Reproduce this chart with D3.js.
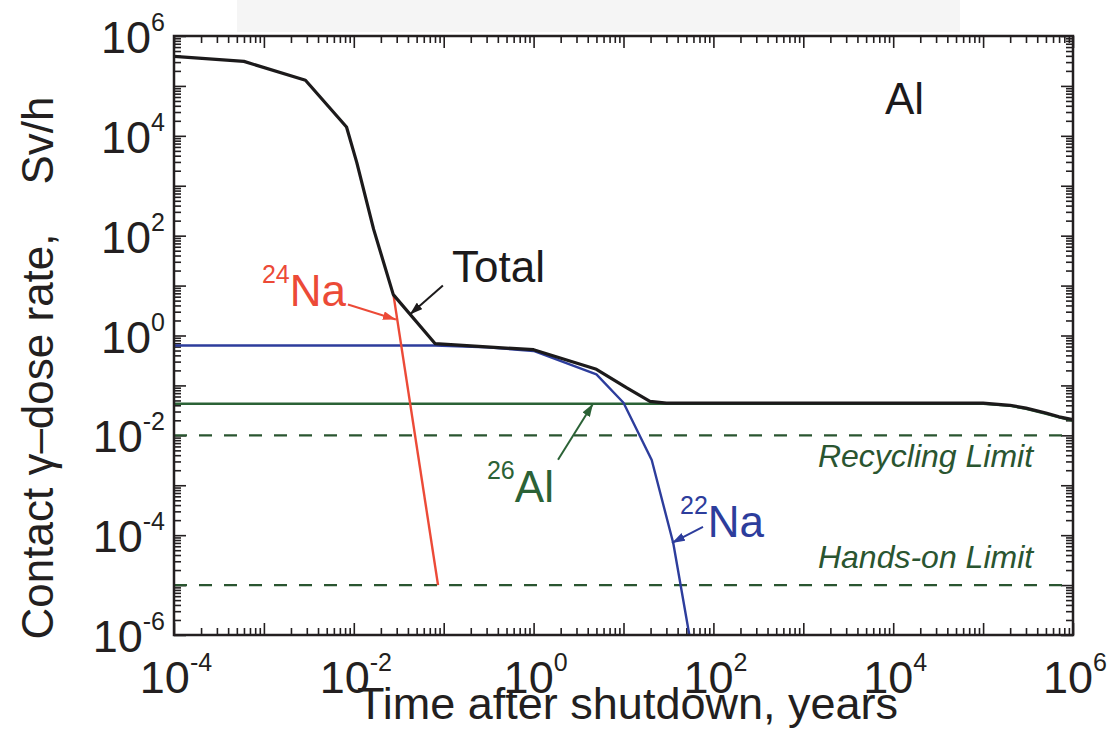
<!DOCTYPE html>
<html>
<head>
<meta charset="utf-8">
<script src="https://cdn.jsdelivr.net/npm/d3@7"></script>
<style>
  body { margin: 0; background: #fff; }
  svg { display: block; font-family: "Liberation Sans", Arial, Helvetica, sans-serif; }
  .axis path { display: none; }
  .axis line { stroke: #231f20; stroke-width: 1.6; }
</style>
</head>
<body>
<svg id="chart" width="1108" height="736"></svg>
<script>
// time after shutdown (years) vs contact gamma dose rate (Sv/h)
var totalTime = [1e-4, 6e-4, 2.9e-3, 8.3e-3, 1.08e-2, 1.66e-2, 2.75e-2, 0.08, 0.3, 1, 5, 10.9, 19.7, 30, 1e5, 2e5, 3e5, 5e5, 7e5, 1e6]
var totalDose = [3.9e5, 3.1e5, 1.3e5, 1.5e4, 2.9e3, 135, 6.6, 0.69, 0.59, 0.52, 0.21, 0.089, 0.048, 0.044, 0.044, 0.040, 0.035, 0.028, 0.0235, 0.0206]

var na22Time = [1e-4, 0.08, 0.3, 1, 5, 10, 20.6, 35.8, 54]
var na22Dose = [0.63, 0.63, 0.58, 0.49, 0.166, 0.045, 3.2e-3, 6.9e-5, 1e-6]

var na24Time = [0.0277, 0.0865]
var na24Dose = [6.3, 1e-5]

var al26Time = [1e-4, 1e5, 2e5, 3e5, 5e5, 7e5, 1e6]
var al26Dose = [0.043, 0.043, 0.039, 0.034, 0.027, 0.023, 0.0195]

var limitNames = ['Recycling Limit', 'Hands-on Limit']
var limitDose = [1e-2, 1e-5]
var limitLabelTime = [1455, 1455]
var limitLabelDose = [2.34e-3, 2.2e-5]

var xTickExps = [-4, -2, 0, 2, 4, 6]
var yTickExps = [-6, -4, -2, 0, 2, 4, 6]

// curve labels: mass number, symbol, anchor (time, dose) and arrow tail/head
var labelSup = ['', '24', '26', '22', '']
var labelText = ['Total', 'Na', 'Al', 'Na', 'Al']
var labelTime = [0.124, 9.5e-4, 0.303, 42.5, 8100]
var labelDose = [11.6, 3.87, 4.7e-4, 9.4e-5, 2.72e4]
var arrowFrom = [[0.098, 10], [0.0086, 4.19], [1.87, 3.24e-3], [76.6, 1.47e-4]]
var arrowTo = [[0.042, 2.64], [0.0294, 2.09], [4.58, 0.043], [34.6, 7e-5]]

var black = '#1c1a1b', red = '#ec4a37', blue = '#2d3d9c', green = '#2b6236', limitGreen = '#2a5530'
var labelColor = [black, red, green, blue, black]

var svg = d3.select('#chart')
var plotLeft = 174, plotRight = 1073, plotTop = 36, plotBottom = 635

var x = d3.scaleLog().domain([1e-4, 1e6]).range([plotLeft, plotRight])
var y = d3.scaleLog().domain([1e-6, 1e6]).range([plotBottom, plotTop])

// faint scan band at the top
svg.append('rect').attr('x', 237).attr('y', 0).attr('width', 723).attr('height', 32).attr('fill', '#f5f5f5')

var defs = svg.append('defs')
defs.append('clipPath').attr('id', 'plotClip')
  .append('rect').attr('x', plotLeft).attr('y', plotTop)
  .attr('width', plotRight - plotLeft).attr('height', plotBottom - plotTop)

// ticks: decades long, 2..9 short, all pointing inward
var xMajor = d3.range(-4, 7).map(function(e) { return Math.pow(10, e) })
var yMajor = d3.range(-6, 7).map(function(e) { return Math.pow(10, e) })
var minorOf = function(lo, hi) {
  var out = []
  d3.range(lo, hi).forEach(function(e) {
    d3.range(2, 10).forEach(function(k) { out.push(k * Math.pow(10, e)) })
  })
  return out
}
var xMinor = minorOf(-4, 6)
var yMinor = minorOf(-6, 6)

var _drawAxis = function(axisGen, tx, ty, values, size) {
  svg.append('g')
    .attr('class', 'axis')
    .attr('transform', 'translate(' + tx + ',' + ty + ')')
    .call(axisGen.tickValues(values).tickSize(size).tickFormat(''))
}
_drawAxis(d3.axisBottom(x), 0, plotBottom, xMajor, -12)
_drawAxis(d3.axisBottom(x), 0, plotBottom, xMinor, -7)
_drawAxis(d3.axisTop(x), 0, plotTop, xMajor, -12)
_drawAxis(d3.axisTop(x), 0, plotTop, xMinor, -7)
_drawAxis(d3.axisLeft(y), plotLeft, 0, yMajor, -12)
_drawAxis(d3.axisLeft(y), plotLeft, 0, yMinor, -7)
_drawAxis(d3.axisRight(y), plotRight, 0, yMajor, -12)
_drawAxis(d3.axisRight(y), plotRight, 0, yMinor, -7)

// tick labels 10^n
var _powerLabel = function(px, py, exp, anchor) {
  var t = svg.append('text')
    .attr('x', px).attr('y', py)
    .attr('text-anchor', anchor)
    .attr('fill', '#231f20')
  t.append('tspan').attr('font-size', 45).text('10')
  t.append('tspan').attr('font-size', 25).attr('dy', -22).text(String(exp))
}
xTickExps.forEach(function(e) { _powerLabel(x(Math.pow(10, e)) + 2, 693, e, 'middle') })
yTickExps.forEach(function(e) { _powerLabel(165, y(Math.pow(10, e)) + 17, e, 'end') })

// axis titles
svg.append('text')
  .attr('x', (plotLeft + plotRight) / 2 + 4).attr('y', 719)
  .attr('text-anchor', 'middle')
  .attr('font-size', 45)
  .attr('fill', '#231f20')
  .text('Time after shutdown, years')

svg.append('text')
  .attr('transform', 'translate(53,368) rotate(-90)')
  .attr('text-anchor', 'middle')
  .attr('font-size', 44)
  .attr('fill', '#231f20')
  .style('white-space', 'pre')
  .text('Contact \u03b3\u2013dose rate,    Sv/h')

// limit lines
var plot = svg.append('g').attr('clip-path', 'url(#plotClip)')
limitDose.forEach(function(v) {
  plot.append('line')
    .attr('x1', plotLeft).attr('x2', plotRight)
    .attr('y1', y(v)).attr('y2', y(v))
    .attr('stroke', limitGreen)
    .attr('stroke-width', 2.4)
    .attr('stroke-dasharray', '13,12')
})
limitNames.forEach(function(name, i) {
  svg.append('text')
    .attr('x', x(limitLabelTime[i])).attr('y', y(limitLabelDose[i]))
    .attr('font-size', 32)
    .attr('font-style', 'italic')
    .attr('fill', limitGreen)
    .text(name)
})

// curves
var lineFunction = d3.line()
  .x(function(d) { return x(d[0]) })
  .y(function(d) { return y(d[1]) })
  .curve(d3.curveLinear)

var _drawCurve = function(times, doses, color, width) {
  plot.append('path')
    .attr('d', lineFunction(d3.zip(times, doses)))
    .attr('fill', 'none')
    .attr('stroke', color)
    .attr('stroke-width', width)
    .attr('stroke-linejoin', 'round')
}
_drawCurve(al26Time, al26Dose, green, 2.4)
_drawCurve(na22Time, na22Dose, blue, 2.4)
_drawCurve(na24Time, na24Dose, red, 2.4)
_drawCurve(totalTime, totalDose, black, 3.2)

// frame
svg.append('rect')
  .attr('x', plotLeft).attr('y', plotTop)
  .attr('width', plotRight - plotLeft).attr('height', plotBottom - plotTop)
  .attr('fill', 'none')
  .attr('stroke', '#231f20')
  .attr('stroke-width', 2.5)

// labels and arrows
labelText.forEach(function(txt, i) {
  var t = svg.append('text')
    .attr('x', x(labelTime[i])).attr('y', y(labelDose[i]))
    .attr('fill', labelColor[i])
  if (labelSup[i]) {
    t.append('tspan').attr('font-size', 25).attr('dy', -23).text(labelSup[i])
    t.append('tspan').attr('font-size', 44).attr('dy', 23).text(txt)
  } else {
    t.append('tspan').attr('font-size', 44).text(txt)
  }
})

arrowFrom.forEach(function(from, i) {
  var color = labelColor[i]
  defs.append('marker')
    .attr('id', 'head' + i)
    .attr('markerUnits', 'userSpaceOnUse')
    .attr('viewBox', '0 0 12 8')
    .attr('refX', 12).attr('refY', 4)
    .attr('markerWidth', 13).attr('markerHeight', 9)
    .attr('orient', 'auto')
    .append('path').attr('d', 'M0,0 L12,4 L0,8 Z').attr('fill', color)
  svg.append('line')
    .attr('x1', x(from[0])).attr('y1', y(from[1]))
    .attr('x2', x(arrowTo[i][0])).attr('y2', y(arrowTo[i][1]))
    .attr('stroke', color)
    .attr('stroke-width', 2)
    .attr('marker-end', 'url(#head' + i + ')')
})
</script>
</body>
</html>
